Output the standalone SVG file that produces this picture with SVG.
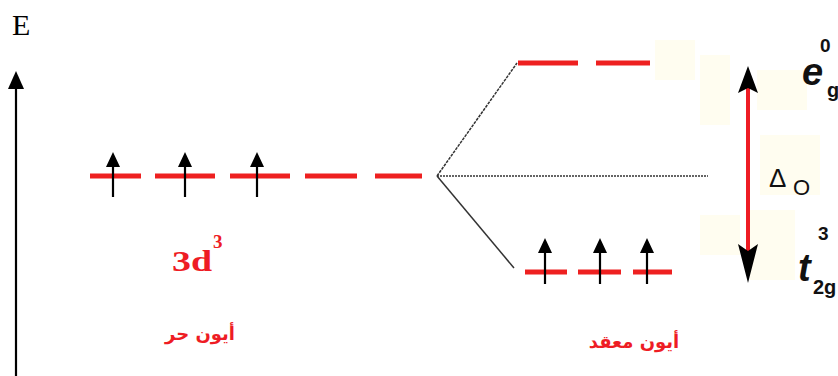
<svg xmlns="http://www.w3.org/2000/svg" width="838" height="376" viewBox="0 0 838 376">
<style>
.lvl{stroke:#ee2020;stroke-width:5;fill:none}
.spin{stroke:#000;stroke-width:2.2;fill:none}
.head{fill:#000}
.conn{stroke:#333;stroke-width:1.5;fill:none}
.red{fill:#ee1c24;font-family:"Liberation Serif",serif;font-weight:bold}
.ar{fill:#ee1c24;font-family:"DejaVu Sans","Noto Sans",sans-serif;font-weight:bold;font-size:18px}
.lab{font-family:"Liberation Sans",Arial,sans-serif;fill:#111}
</style>
<rect width="838" height="376" fill="#fff"/>
<g id="bg" fill="#fffdf0">
<rect x="655" y="40" width="40" height="40"/>
<rect x="700" y="55" width="30" height="70"/>
<rect x="757" y="70" width="50" height="40"/>
<rect x="760" y="135" width="60" height="60"/>
<rect x="700" y="215" width="40" height="40"/>
<rect x="750" y="210" width="45" height="70"/>
</g>
<g id="axis">
<text x="12" y="35" font-family="Liberation Serif,serif" font-size="30" fill="#000">E</text>
<line x1="16" y1="86" x2="16" y2="376" stroke="#000" stroke-width="2.2"/>
<polygon class="head" points="16,71 8,89 24,89"/>
</g>
<g id="free-ion">
<line class="lvl" x1="90" y1="176" x2="141" y2="176"/>
<line class="lvl" x1="155" y1="176" x2="215" y2="176"/>
<line class="lvl" x1="230" y1="176" x2="290" y2="176"/>
<line class="lvl" x1="305" y1="176" x2="357" y2="176"/>
<line class="lvl" x1="375" y1="176" x2="422" y2="176"/>
<line class="spin" x1="113" y1="165" x2="113" y2="197"/>
<polygon class="head" points="113,152 106,167 120,167"/>
<line class="spin" x1="185" y1="165" x2="185" y2="197"/>
<polygon class="head" points="185,152 178,167 192,167"/>
<line class="spin" x1="257" y1="165" x2="257" y2="197"/>
<polygon class="head" points="257,152 250,167 264,167"/>
<text class="red" x="172" y="271" font-size="30" textLength="40" lengthAdjust="spacingAndGlyphs">3d</text>
<text class="red" x="213" y="248" font-size="19">3</text>
<text class="ar" x="200" y="340" font-size="19" text-anchor="middle" direction="rtl">أيون حر</text>
</g>
<g id="connectors">
<line class="conn" x1="437" y1="176" x2="517" y2="63" stroke-dasharray="3,1"/>
<line class="conn" x1="437" y1="176" x2="708" y2="176" stroke-dasharray="2,1" stroke-width="1.3"/>
<line class="conn" x1="437" y1="176" x2="514" y2="268" stroke="#555"/>
</g>
<g id="eg">
<line class="lvl" x1="518" y1="63" x2="578" y2="63"/>
<line class="lvl" x1="596" y1="63" x2="650" y2="63"/>
</g>
<g id="t2g">
<line class="lvl" x1="525" y1="272" x2="567" y2="272"/>
<line class="lvl" x1="578" y1="272" x2="621" y2="272"/>
<line class="lvl" x1="633" y1="272" x2="672" y2="272"/>
<line class="spin" x1="545" y1="250" x2="545" y2="284"/>
<polygon class="head" points="545,238 538,253 552,253"/>
<line class="spin" x1="600" y1="250" x2="600" y2="284"/>
<polygon class="head" points="600,238 593,253 607,253"/>
<line class="spin" x1="647" y1="250" x2="647" y2="284"/>
<polygon class="head" points="647,238 640,253 654,253"/>
<text class="ar" x="634" y="348" text-anchor="middle" direction="rtl">أيون معقد</text>
</g>
<g id="delta">
<line x1="748" y1="85" x2="748" y2="262" stroke="#ee1c24" stroke-width="4"/>
<polygon class="head" points="748,66 738,93 748,88 758,93"/>
<polygon class="head" points="748,283 738,244 748,251 758,244"/>
<text class="lab" x="769" y="187" font-size="26">Δ</text>
<text class="lab" x="793" y="195" font-size="22">O</text>
</g>
<g id="labels">
<text class="lab" x="802" y="85" font-size="38" font-weight="bold" font-style="italic">e</text>
<text class="lab" x="827" y="97" font-size="20" font-weight="bold">g</text>
<text class="lab" x="820" y="52" font-size="19" font-weight="bold" fill="#1a2a5a">0</text>
<text class="lab" x="798" y="281" font-size="38" font-weight="bold" font-style="italic">t</text>
<text class="lab" x="813" y="294" font-size="20" font-weight="bold">2g</text>
<text class="lab" x="818" y="240" font-size="19" font-weight="bold" fill="#1a2a5a">3</text>
</g>
</svg>
